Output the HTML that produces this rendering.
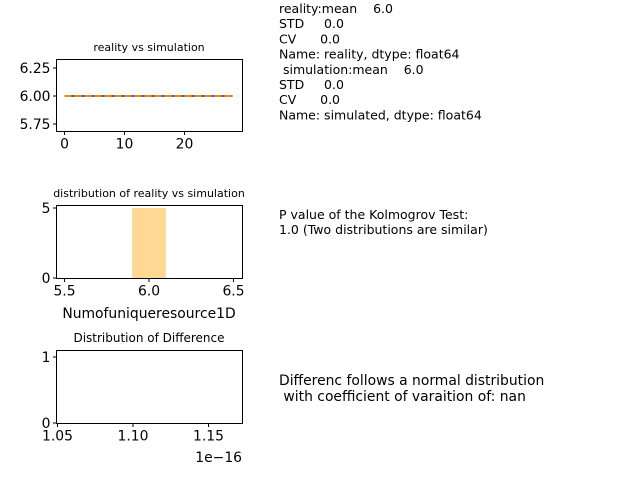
<!DOCTYPE html>
<html><head><meta charset="utf-8"><style>
html,body{margin:0;padding:0;background:#fff;}
svg{display:block;font-family:"DejaVu Sans","Liberation Sans",sans-serif;}
</style></head><body>
<svg id="c" width="640" height="480" xmlns="http://www.w3.org/2000/svg"></svg>
<script>
const lineX = Array.from({length:29},(_,i)=>i);
const realityVals = [6,6,6,6,6,6,6,6,6,6,6,6,6,6,6,6,6,6,6,6,6,6,6,6,6,6,6,6,6];
const simVals = [6,6,6,6,6,6,6,6,6,6,6,6,6,6,6,6,6,6,6,6,6,6,6,6,6,6,6,6,6];
const ticks1Y = [6.25,6.00,5.75];
const ticks1X = [0,10,20];
const histBins = [[5.9,6.1]];
const histCounts = [5];
const ticks2X = [5.5,6.0,6.5];
const ticks2Y = [0,5];
const ticks3X = [1.05,1.10,1.15];
const ticks3Y = [0,1];
const statLines = ["reality:mean    6.0","STD     0.0","CV      0.0","Name: reality, dtype: float64"," simulation:mean    6.0","STD     0.0","CV      0.0","Name: simulated, dtype: float64"];

const svg=document.getElementById('c');
const NS='http://www.w3.org/2000/svg';
const FS=13.9;
function el(t,a,txt){const e=document.createElementNS(NS,t);for(const k in a)e.setAttribute(k,a[k]);if(txt!==undefined)e.textContent=txt;svg.appendChild(e);return e;}
function lin(d0,d1,r0,r1){return v=>r0+(v-d0)/(d1-d0)*(r1-r0);}
function axesBox(x0,y0,x1,y1,name){
  const r=el('rect',{x:x0,y:y0,width:x1-x0,height:y1-y0,fill:'none',stroke:'#000','stroke-width':1});
  
}
function xt(sx,v,lab,yb,name){
  const x=sx(v);
  el('line',{x1:x,y1:yb,x2:x,y2:yb+3.5,stroke:'#000'});
  const t=el('text',{x:x,y:yb+17,'font-size':FS,'text-anchor':'middle',fill:'#000'},lab);
  
}
function yt(sy,v,lab,xl,name){
  const y=sy(v);
  el('line',{x1:xl-3.5,y1:y,x2:xl,y2:y,stroke:'#000'});
  const t=el('text',{x:xl-6,y:y+5,'font-size':FS,'text-anchor':'end',fill:'#000'},lab);
  
}
// Plot 1
{
  const sx=lin(0,10,64.5,124.5), sy=lin(6,6.25,96,68);
  const t=el('text',{x:149,y:51,'font-size':11,'text-anchor':'middle'},'reality vs simulation');
  
  const p1=lineX.map((x,i)=>sx(x)+','+sy(realityVals[i])).join(' ');
  const l1=el('polyline',{points:p1,fill:'none',stroke:'#1f77b4','stroke-width':2});
  
  const p2=lineX.map((x,i)=>sx(x)+','+sy(simVals[i])).join(' ');
  const l2=el('polyline',{points:p2,fill:'none',stroke:'#ff7f0e','stroke-width':2,'stroke-dasharray':'7,3'});
  
  axesBox(56.5,59.5,242.5,131.5,'chart1-axes');
  ticks1Y.forEach(v=>yt(sy,v,v.toFixed(2),56.5,'y-tick-label'));
  ticks1X.forEach(v=>xt(sx,v,String(v),131.5,'x-tick-label'));
}
// Plot 2
{
  const sx=lin(5.5,6.5,64.5,233.5), sy=lin(0,5,278,208);
  const t=el('text',{x:149,y:197,'font-size':11,'text-anchor':'middle'},'distribution of reality vs simulation');
  
  histBins.forEach((b,i)=>{
    const r=el('rect',{x:sx(b[0]),y:sy(histCounts[i]),width:sx(b[1])-sx(b[0]),height:sy(0)-sy(histCounts[i]),fill:'#ffd993'});
    
  });
  axesBox(56.5,205.5,242.5,278.5,'chart2-axes');
  ticks2Y.forEach(v=>yt(sy,v,String(v),56.5,'y-tick-label'));
  ticks2X.forEach(v=>xt(sx,v,v.toFixed(1),278.5,'x-tick-label'));
  const xl=el('text',{x:149,y:318,'font-size':FS,'text-anchor':'middle'},'Numofuniqueresource1D');
  
}
// Plot 3
{
  const sx=lin(1.05,1.10,57.5,133), sy=lin(0,1,423,357);
  const t=el('text',{x:149,y:342,'font-size':12,'text-anchor':'middle'},'Distribution of Difference');
  
  axesBox(56.5,350.5,242.5,423.5,'chart3-axes');
  ticks3Y.forEach(v=>yt(sy,v,String(v),56.5,'y-tick-label'));
  ticks3X.forEach(v=>xt(sx,v,v.toFixed(2),423.5,'x-tick-label'));
  const o=el('text',{x:242,y:462,'font-size':FS,'text-anchor':'end'},'1e\u221216');
  
}
// Text blocks
statLines.forEach((s,i)=>{
  const t=el('text',{x:279,y:13+i*15.2,'font-size':12.5,'xml:space':'preserve'},s);
  t.style.whiteSpace='pre';
  
});
[["P value of the Kolmogrov Test:",219],["1.0 (Two distributions are similar)",234]].forEach(a=>{
  const t=el('text',{x:279,y:a[1],'font-size':12.5},a[0]);
  
});
[["Differenc follows a normal distribution",385],[" with coefficient of varaition of: nan",401]].forEach(a=>{
  const t=el('text',{x:279,y:a[1],'font-size':FS},a[0]);
  t.style.whiteSpace='pre';
  
});
</script>
</body></html>
